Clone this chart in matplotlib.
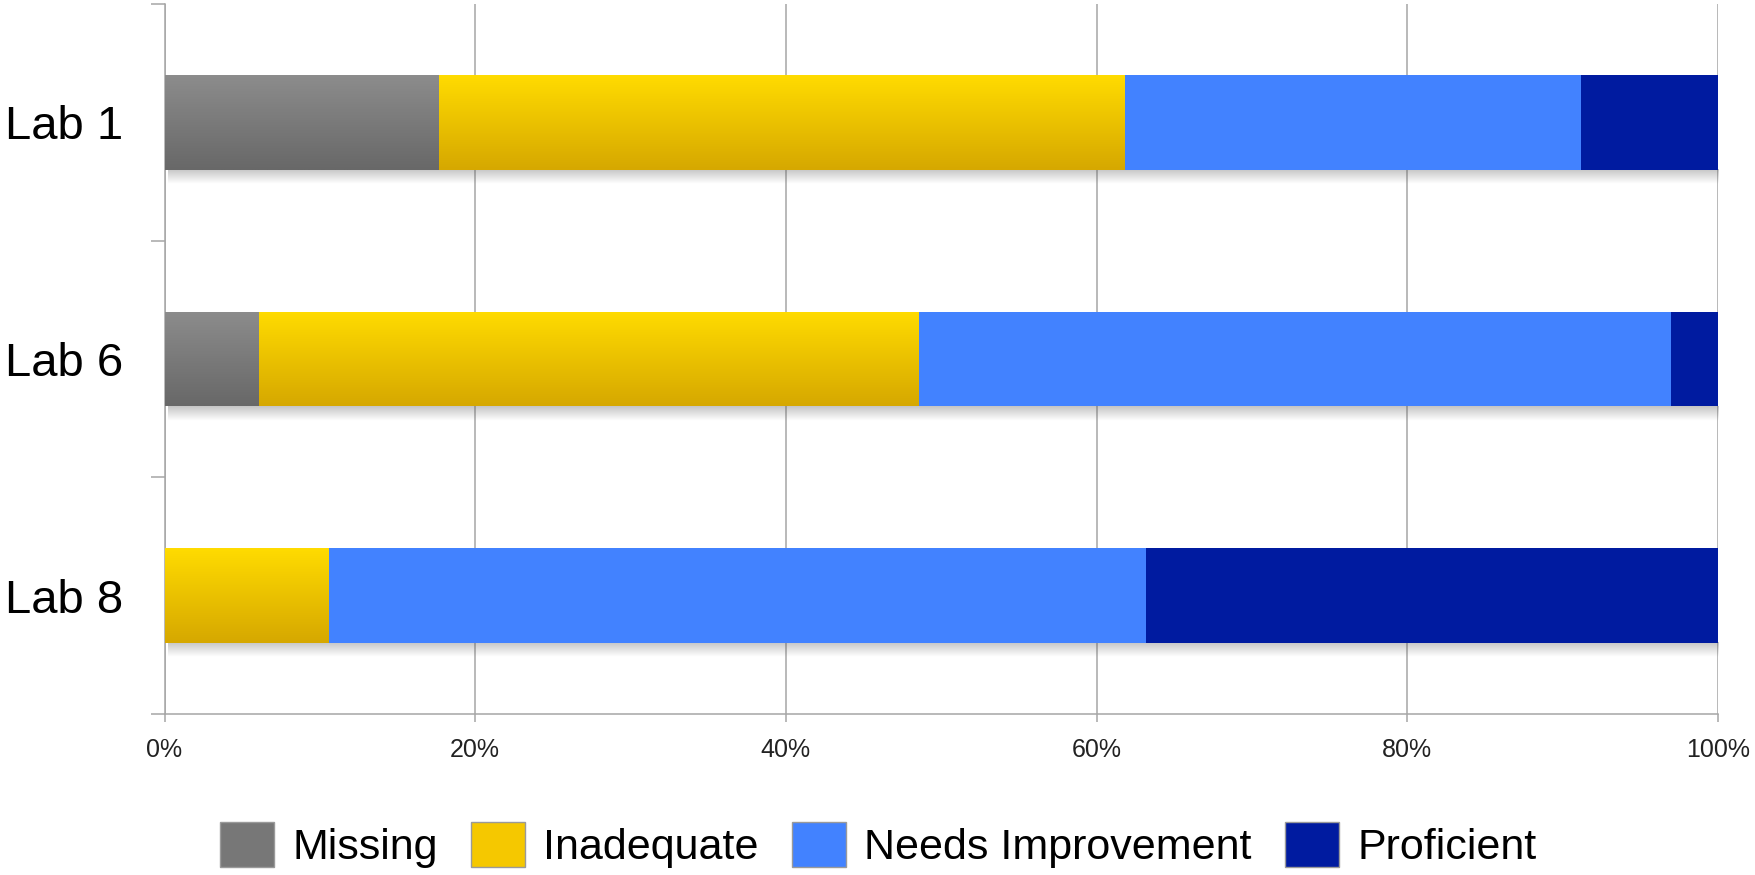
import numpy as np
import matplotlib.pyplot as plt
from matplotlib.colors import LinearSegmentedColormap
from matplotlib.patches import Patch

plt.rcParams["font.family"] = ["Liberation Sans", "DejaVu Sans"]

# student counts per rubric level for each lab
labs = ["Lab 1", "Lab 6", "Lab 8"]
levels = ["Missing", "Inadequate", "Needs Improvement", "Proficient"]
missing = [6, 2, 0]
inadequate = [15, 14, 2]
needs_improvement = [10, 16, 10]
proficient = [3, 1, 7]

counts = np.array([missing, inadequate, needs_improvement, proficient], dtype=float)
pct = counts / counts.sum(axis=0) * 100

flat_colors = ["#777777", "#f5c800", "#4282ff", "#001ba0"]
gradients = {
    0: ("#8c8c8c", "#686868"),
    1: ("#ffdb00", "#d6a800"),
}

fig = plt.figure(figsize=(17.56, 8.75), dpi=100)
ax = fig.add_axes([0.0937, 0.184, 0.8846, 0.8114])

y = np.arange(len(labs))
bar_h = 0.4
left = np.zeros(len(labs))
for i, name in enumerate(levels):
    bars = ax.barh(y, pct[i], left=left, height=bar_h, color=flat_colors[i],
                   zorder=3, linewidth=0)
    if i in gradients:
        cmap = LinearSegmentedColormap.from_list("g%d" % i, gradients[i])
        grad = np.linspace(0, 1, 64).reshape(-1, 1)
        for rect in bars:
            if rect.get_width() <= 0:
                continue
            x0, y0 = rect.get_x(), rect.get_y()
            im = ax.imshow(grad, cmap=cmap, aspect="auto", zorder=3.5,
                           extent=[x0, x0 + rect.get_width(), y0 + bar_h, y0])
            im.set_clip_path(rect)
    left += pct[i]

# soft drop shadow under each bar
shadow = np.zeros((32, 1, 4))
shadow[..., :3] = 0.35
shadow[:, 0, 3] = np.linspace(0.35, 0, 32)
for yy in y:
    ax.imshow(shadow, aspect="auto", zorder=2.5, interpolation="bilinear",
              extent=[0.2, 100, yy + bar_h / 2 + 0.06, yy + bar_h / 2])

ax.set_xlim(0, 100)
ax.set_ylim(2.5, -0.5)

ax.set_xticks(np.arange(0, 101, 20))
ax.set_xticklabels(["%d%%" % v for v in range(0, 101, 20)])
ax.set_yticks(y)
ax.set_yticklabels(labs)
ax.set_yticks([-0.5, 0.5, 1.5, 2.5], minor=True)

ax.tick_params(axis="x", labelsize=18, length=5.5, width=1.1, color="#a6a6a6",
               pad=12, labelcolor="#222222")
ax.tick_params(axis="y", which="major", labelsize=34, length=0, pad=30)
ax.tick_params(axis="y", which="minor", length=10, width=1.1, color="#a6a6a6")

ax.grid(axis="x", color="#a6a6a6", linewidth=1.1, zorder=0)
ax.set_axisbelow(True)
for side in ["top", "right"]:
    ax.spines[side].set_visible(False)
for side in ["left", "bottom"]:
    ax.spines[side].set_color("#a6a6a6")
    ax.spines[side].set_linewidth(1.1)

handles = [Patch(facecolor=c, edgecolor="#9a9a9a", linewidth=1, label=n)
           for c, n in zip(flat_colors, levels)]
fig.legend(handles=handles, loc="center", bbox_to_anchor=(0.5, 0.034), ncol=4,
           frameon=False, fontsize=31, handlelength=1.26, handleheight=1.23,
           handletextpad=0.42, columnspacing=0.77, borderpad=0)

fig.savefig("out.png", dpi=100)
